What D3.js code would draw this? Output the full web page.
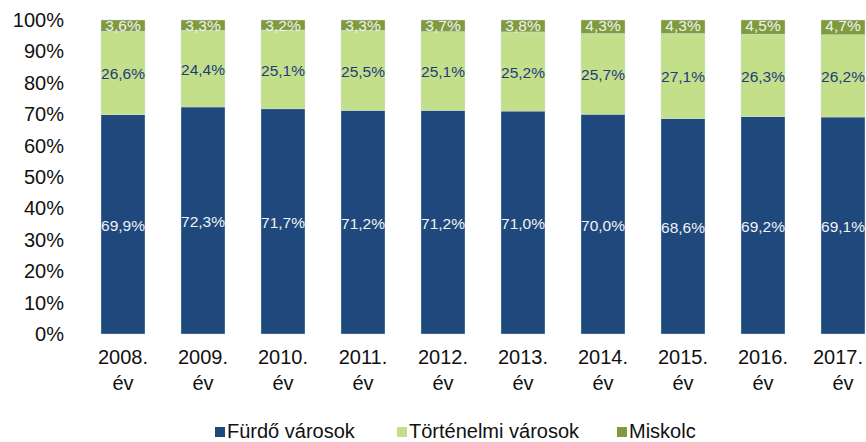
<!DOCTYPE html>
<html><head><meta charset="utf-8">
<script src="https://cdn.jsdelivr.net/npm/d3@7"></script>
<style>body{margin:0;background:#fff}svg{display:block;font-family:"Liberation Sans",Arial,sans-serif}</style>
</head><body>
<script>
const categories = ["2008.", "2009.", "2010.", "2011.", "2012.", "2013.", "2014.", "2015.", "2016.", "2017."];
const categorySuffix = "év";
const seriesNames = ["Fürdő városok", "Történelmi városok", "Miskolc"];
const furdo = [69.9, 72.3, 71.7, 71.2, 71.2, 71.0, 70.0, 68.6, 69.2, 69.1];
const tortenelmi = [26.6, 24.4, 25.1, 25.5, 25.1, 25.2, 25.7, 27.1, 26.3, 26.2];
const miskolc = [3.6, 3.3, 3.2, 3.3, 3.7, 3.8, 4.3, 4.3, 4.5, 4.7];
const yTicks = [0, 10, 20, 30, 40, 50, 60, 70, 80, 90, 100];
const colors = ["#1f497d", "#c3df8a", "#809a3e"];
const labelColors = ["#f2f2f2", "#1f3c7f", "#f2f2f2"];

const W = 866, H = 442;
const svg = d3.select("body").append("svg").attr("width", W).attr("height", H);

const rows = categories.map((c, i) => ({cat: c, s0: furdo[i], s1: tortenelmi[i], s2: miskolc[i]}));
const stack = d3.stack().keys(["s0", "s1", "s2"]).offset(d3.stackOffsetExpand);
const stacked = stack(rows);

const x = d3.scaleBand().domain(categories).range([83, 883]).paddingInner(0.45).paddingOuter(0.225);
const y = d3.scaleLinear().domain([0, 1]).range([334, 20]);

// y axis labels
svg.append("g").selectAll("text").data(yTicks).join("text")
  .attr("x", 64).attr("y", d => y(d / 100)).attr("dy", "0.35em")
  .attr("text-anchor", "end").attr("font-size", 20).attr("fill", "#111")
  .text(d => d + "%");

// bars
const g = svg.append("g");
stacked.forEach((layer, li) => {
  g.append("g").selectAll("rect").data(layer).join("rect")
    .attr("x", d => x(d.data.cat)).attr("width", x.bandwidth())
    .attr("y", d => y(d[1])).attr("height", d => y(d[0]) - y(d[1]))
    .attr("fill", colors[li]).attr("stroke", "#d8e0ea").attr("stroke-width", 0.4);
});

// labels
const vals = [furdo, tortenelmi, miskolc];
stacked.forEach((layer, li) => {
  g.append("g").selectAll("text").data(layer).join("text")
    .attr("x", d => x(d.data.cat) + x.bandwidth() / 2)
    .attr("y", (d, i) => li === 2 ? y(d[1]) + 6 : (y(d[0]) + y(d[1])) / 2 + 1)
    .attr("dy", "0.35em").attr("text-anchor", "middle")
    .attr("font-size", 15.5).attr("fill", labelColors[li])
    .text((d, i) => vals[li][i].toFixed(1).replace(".", ",") + "%");
});

// x labels (first line is nudged left to stay inside the window, as in the reference)
const xl = svg.append("g").selectAll("text").data(categories).join("text")
  .attr("text-anchor", "middle").attr("font-size", 20).attr("fill", "#111");
xl.append("tspan").attr("y", 364).text(d => d)
  .attr("x", function(d) {
    const c = x(d) + x.bandwidth() / 2;
    const w = this.getComputedTextLength();
    return Math.min(c, W - 3 - w / 2);
  });
xl.append("tspan").attr("x", d => x(d) + x.bandwidth() / 2).attr("y", 390).text(categorySuffix);

// legend
const legendX = [215, 397, 617];
const lg = svg.append("g").selectAll("g").data(seriesNames).join("g")
  .attr("transform", (d, i) => `translate(${legendX[i]},0)`);
lg.append("rect").attr("x", 0).attr("y", 427).attr("width", 10).attr("height", 10)
  .attr("fill", (d, i) => colors[i]);
lg.append("text").attr("x", 12).attr("y", 438).attr("font-size", 20).attr("fill", "#111").text(d => d);
</script>
</body></html>
